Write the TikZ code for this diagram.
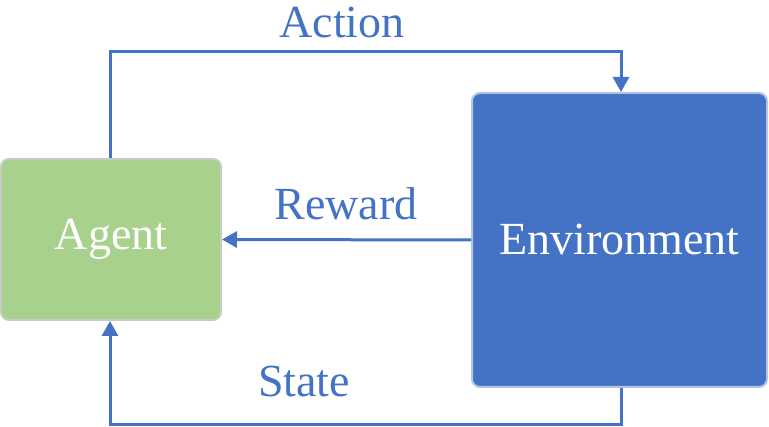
\documentclass[tikz,border=0pt]{standalone}
\usepackage{fontspec}
\setmainfont{Liberation Serif}
\usetikzlibrary{arrows.meta}
\definecolor{lblue}{HTML}{4472C4}
\definecolor{lgreen}{HTML}{A9D18E}
\begin{document}
\begin{tikzpicture}[x=1pt,y=1pt,
  box/.style={rounded corners=8pt, line width=2pt, inner sep=0pt, font=\fontsize{46}{55}\selectfont, text=white},
  conn/.style={draw=lblue, line width=3pt, -{Triangle[length=15pt,width=16pt]}},
  lbl/.style={text=lblue, font=\fontsize{46}{55}\selectfont, anchor=base, inner sep=0pt}]
\useasboundingbox (0,0) rectangle (769,427);
\node[box, fill=lgreen, draw={rgb,255:red,200;green,205;blue,195}, minimum width=220pt, minimum height=161pt] (agent) at (111,187.5) {Agent};
\node[box, fill=lblue, draw={rgb,255:red,180;green,195;blue,225}, minimum width=295pt, minimum height=294pt] (env) at (619.5,187) {Environment};
\coordinate (a1) at (110,375);
\coordinate (a2) at (621,375);
\coordinate (s1) at (621,2);
\coordinate (s2) at (110,2);
\draw[conn] (agent.north -| a1) -- (a1) -- (a2) -- (env.north -| a2);
\draw[conn] (env.west) -- (agent.east);
\draw[conn] (env.south -| s1) -- (s1) -- (s2) -- (agent.south -| s2);
\node[lbl] (action) at (342,389) {Action};
\node[lbl] (reward) at (346,207) {Reward};
\node[lbl] (state) at (304,30) {State};
\end{tikzpicture}
\end{document}
